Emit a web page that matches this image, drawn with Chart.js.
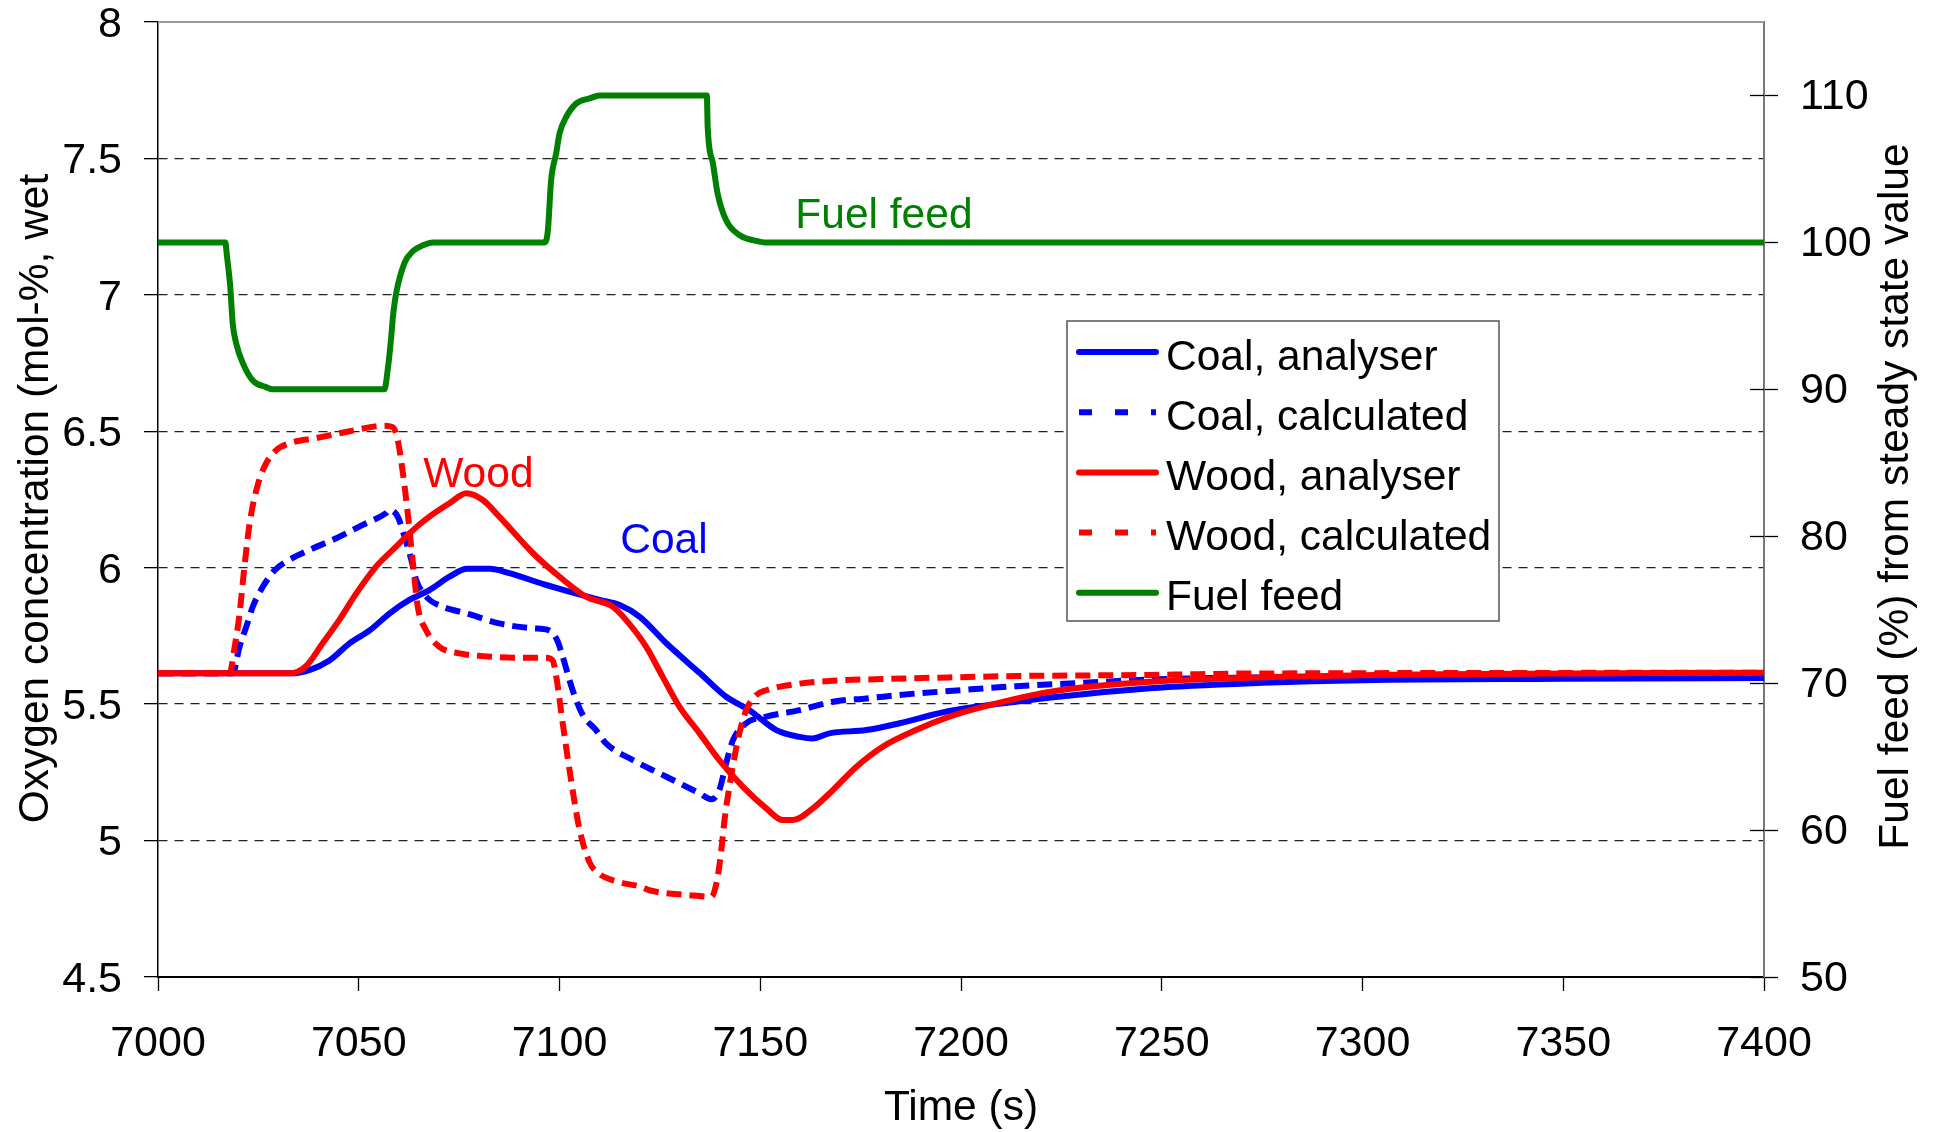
<!DOCTYPE html>
<html>
<head>
<meta charset="utf-8">
<title>Oxygen concentration and fuel feed</title>
<script src="https://cdn.jsdelivr.net/npm/chart.js@4/dist/chart.umd.min.js"></script>
<style>
  html, body { margin: 0; padding: 0; background: #fff; }
  #c { display: block; }
</style>
</head>
<body>
<canvas id="c" width="1934" height="1132"></canvas>
<script>
// ---- axis ticks ----
const timeTicks = [7000, 7050, 7100, 7150, 7200, 7250, 7300, 7350, 7400];
const o2Ticks = [4.5, 5, 5.5, 6, 6.5, 7, 7.5, 8];
const feedTicks = [50, 60, 70, 80, 90, 100, 110];

// ---- Coal, analyser: time (s) / O2 (mol-%) ----
const coalAnalyserT = [7000, 7033, 7037.7, 7042.7, 7047.7, 7052.7, 7057.7, 7062.6, 7067.6, 7072.6, 7077, 7082.6, 7087.5, 7096, 7104, 7110, 7115, 7120, 7126.6, 7135, 7141.5, 7147.3, 7154, 7159.8, 7163, 7167.2, 7176.4, 7184.7, 7197, 7213.7, 7247, 7275, 7300, 7350, 7400];
const coalAnalyserO2 = [5.613, 5.613, 5.625, 5.66, 5.723, 5.77, 5.833, 5.882, 5.918, 5.967, 5.996, 5.996, 5.98, 5.94, 5.906, 5.882, 5.863, 5.82, 5.723, 5.613, 5.527, 5.478, 5.405, 5.38, 5.374, 5.393, 5.405, 5.43, 5.475, 5.509, 5.558, 5.578, 5.588, 5.593, 5.596];

// ---- Coal, calculated ----
const coalCalcT = [7000, 7018.6, 7020.3, 7022, 7023.6, 7026.1, 7029, 7031.9, 7037.7, 7044.4, 7051, 7056.8, 7057.7, 7059.7, 7061.4, 7063.1, 7064.3, 7066.8, 7070.9, 7076.8, 7085, 7093.4, 7097.5, 7099.4, 7100.8, 7103.3, 7105.8, 7109.1, 7111.6, 7118.3, 7126.6, 7134.9, 7137.8, 7139.8, 7141.5, 7143.2, 7146.5, 7151.5, 7159.8, 7168.1, 7176.4, 7188.8, 7197, 7213.7, 7230.3, 7247, 7270, 7300, 7400];
const coalCalcO2 = [5.613, 5.613, 5.71, 5.784, 5.857, 5.93, 5.99, 6.022, 6.065, 6.108, 6.157, 6.2, 6.212, 6.187, 6.114, 6.028, 5.955, 5.894, 5.857, 5.833, 5.796, 5.778, 5.77, 5.735, 5.674, 5.55, 5.46, 5.405, 5.356, 5.295, 5.234, 5.173, 5.151, 5.185, 5.283, 5.368, 5.43, 5.454, 5.478, 5.509, 5.521, 5.539, 5.548, 5.566, 5.578, 5.59, 5.597, 5.6, 5.6];

// ---- Wood, analyser ----
const woodAnalyserT = [7000, 7032.8, 7036.9, 7041, 7045.2, 7049.4, 7054.3, 7059.3, 7062.6, 7067.6, 7072.6, 7076.8, 7080.9, 7085, 7093.4, 7100, 7106.6, 7113.3, 7116.6, 7121.6, 7125.7, 7129.9, 7134.9, 7139.8, 7145.7, 7151.5, 7155.6, 7158.1, 7163.1, 7168.1, 7173.9, 7180.5, 7188.8, 7197.1, 7205.4, 7222, 7247, 7280, 7320, 7400];
const woodAnalyserO2 = [5.613, 5.613, 5.64, 5.723, 5.81, 5.906, 6.004, 6.077, 6.126, 6.187, 6.236, 6.273, 6.248, 6.187, 6.053, 5.967, 5.894, 5.857, 5.808, 5.71, 5.6, 5.49, 5.393, 5.295, 5.197, 5.118, 5.075, 5.075, 5.118, 5.185, 5.27, 5.344, 5.405, 5.454, 5.49, 5.545, 5.582, 5.6, 5.61, 5.615];

// ---- Wood, calculated ----
const woodCalcT = [7000, 7017.8, 7019.1, 7020.3, 7021.5, 7022.8, 7024.5, 7026.5, 7029.4, 7032.8, 7039.4, 7047.7, 7056, 7058.5, 7059.7, 7061, 7062.2, 7063.5, 7064.7, 7066.8, 7070.1, 7075.1, 7080.9, 7089.2, 7096.7, 7098.3, 7099.2, 7100.8, 7102.9, 7105, 7107.5, 7109.7, 7114.3, 7120.4, 7122.4, 7132.4, 7137.8, 7139.4, 7140.3, 7141.1, 7142.3, 7143.6, 7144.8, 7146.5, 7149, 7151.5, 7157.3, 7168.1, 7180.5, 7197.1, 7213.7, 7247, 7270, 7400];
const woodCalcO2 = [5.613, 5.613, 5.71, 5.83, 6.0, 6.16, 6.285, 6.37, 6.43, 6.456, 6.475, 6.5, 6.52, 6.515, 6.468, 6.346, 6.2, 6.016, 5.857, 5.77, 5.71, 5.686, 5.676, 5.67, 5.67, 5.66, 5.6, 5.43, 5.22, 5.04, 4.92, 4.88, 4.85, 4.83, 4.818, 4.8, 4.794, 4.867, 4.965, 5.075, 5.197, 5.307, 5.393, 5.478, 5.533, 5.551, 5.57, 5.586, 5.592, 5.598, 5.603, 5.607, 5.612, 5.615];

// ---- Fuel feed (% of steady state value) ----
const feedT = [7000, 7016.8, 7017.1, 7018, 7018.6, 7019.5, 7021.1, 7023.6, 7026.9, 7028.6, 7056.4, 7057.2, 7058.1, 7058.5, 7059.3, 7061.4, 7063.5, 7066, 7068.4, 7096.3, 7097.1, 7097.9, 7099.2, 7100, 7101.7, 7104.2, 7107.5, 7110, 7136.7, 7136.9, 7138.2, 7139.4, 7141.5, 7144.8, 7149.8, 7151, 7400];
const feedPct = [100, 100, 99.25, 96.98, 94.5, 93.1, 91.8, 90.6, 90.15, 90, 90, 91.3, 93.6, 94.9, 96.5, 98.6, 99.4, 99.8, 100, 100, 100.8, 104.2, 106.1, 107.4, 108.55, 109.46, 109.8, 110, 110, 107.9, 105.4, 103.3, 101.5, 100.5, 100.05, 100, 100];

// ---- text ----
const seriesNames = ['Coal, analyser', 'Coal, calculated', 'Wood, analyser', 'Wood, calculated', 'Fuel feed'];
const xTitle = 'Time (s)';
const yTitle = 'Oxygen concentration (mol-%, wet';
const y2Title = 'Fuel feed (%) from steady state value';
const curveLabels = [
  { text: 'Wood', t: 7079.8, v: 6.296, axis: 'y', color: '#ff0000' },
  { text: 'Coal', t: 7126.0, v: 6.055, axis: 'y', color: '#0000ff' },
  { text: 'Fuel feed', t: 7180.8, v: 101.0, axis: 'y2', color: '#008000' }
];

const FONT = '"Liberation Sans", Arial, Helvetica, sans-serif';
const TEXT_PX = 42.5;
const TICK_PX = 43;
const BLUE = '#0000ff', RED = '#ff0000', GREEN = '#008000';
const LINE_W = 6;
const CHART_DASH = [15, 8];
const LEGEND_DASH = [13, 23];

const pts = (ts, vs) => ts.map((t, i) => ({ x: t, y: vs[i] }));

const datasets = [
  { label: seriesNames[0], data: pts(coalAnalyserT, coalAnalyserO2), borderColor: BLUE, yAxisID: 'y', order: 3 },
  { label: seriesNames[1], data: pts(coalCalcT, coalCalcO2), borderColor: BLUE, borderDash: CHART_DASH, yAxisID: 'y', order: 2 },
  { label: seriesNames[2], data: pts(woodAnalyserT, woodAnalyserO2), borderColor: RED, yAxisID: 'y', order: 1 },
  { label: seriesNames[3], data: pts(woodCalcT, woodCalcO2), borderColor: RED, borderDash: CHART_DASH, yAxisID: 'y', order: 0 },
  { label: seriesNames[4], data: pts(feedT, feedPct), borderColor: GREEN, yAxisID: 'y2', order: 4 }
].map(d => Object.assign({
  borderWidth: LINE_W,
  pointRadius: 0,
  pointHoverRadius: 0,
  fill: false,
  cubicInterpolationMode: 'monotone',
  borderCapStyle: 'butt',
  borderJoinStyle: 'round'
}, d));

const setTicks = (list) => (scale) => { scale.ticks = list.map(v => ({ value: v })); };
const noEdgePadding = (size) => (scale) => {
  if (scale.isHorizontal()) { scale.height = size; } else { scale.width = size; }
  scale.paddingTop = 0; scale.paddingBottom = 0; scale.paddingLeft = 0; scale.paddingRight = 0;
};

// frame lines, inner tick marks, axis titles, curve labels and legend
const decorations = {
  id: 'decorations',
  beforeDatasetsDraw(chart) {
    const { ctx, chartArea: a, scales } = chart;
    ctx.save();
    ctx.strokeStyle = '#9a9a9a';
    ctx.lineWidth = 2;
    ctx.beginPath();
    ctx.moveTo(a.left, a.top);
    ctx.lineTo(a.right, a.top);
    ctx.stroke();
    ctx.strokeStyle = '#000';
    ctx.lineWidth = 1.3;
    feedTicks.forEach(v => {
      const py = Math.round(scales.y2.getPixelForValue(v)) + 0.5;
      ctx.beginPath();
      ctx.moveTo(a.right - 14, py);
      ctx.lineTo(a.right, py);
      ctx.stroke();
    });
    ctx.restore();
  },
  afterDraw(chart) {
    const { ctx, chartArea: a, scales } = chart;
    ctx.save();
    ctx.font = TEXT_PX + 'px ' + FONT;
    ctx.fillStyle = '#000';

    // axis titles
    ctx.textAlign = 'center';
    ctx.textBaseline = 'alphabetic';
    ctx.fillText(xTitle, (a.left + a.right) / 2, 1120);

    ctx.save();
    ctx.translate(48, 498.5);
    ctx.rotate(-Math.PI / 2);
    ctx.fillText(yTitle, 0, 0);
    ctx.restore();

    ctx.save();
    ctx.translate(1908, 496.5);
    ctx.rotate(-Math.PI / 2);
    ctx.fillText(y2Title, 0, 0);
    ctx.restore();

    // labels next to the curves
    curveLabels.forEach(l => {
      ctx.fillStyle = l.color;
      ctx.fillText(l.text, scales.x.getPixelForValue(l.t), scales[l.axis].getPixelForValue(l.v));
    });

    // legend
    const box = { x: 1067, y: 321, w: 432, h: 300 };
    ctx.fillStyle = '#fff';
    ctx.fillRect(box.x, box.y, box.w, box.h);
    ctx.strokeStyle = '#555';
    ctx.lineWidth = 1.5;
    ctx.strokeRect(box.x, box.y, box.w, box.h);
    ctx.textAlign = 'left';
    chart.data.datasets.forEach((ds, i) => {
      const ly = 352 + i * 60.2;
      ctx.save();
      ctx.strokeStyle = ds.borderColor;
      ctx.lineWidth = LINE_W;
      ctx.lineCap = ds.borderDash ? 'butt' : 'round';
      ctx.setLineDash(ds.borderDash ? LEGEND_DASH : []);
      ctx.beginPath();
      ctx.moveTo(1079, ly);
      ctx.lineTo(1156, ly);
      ctx.stroke();
      ctx.restore();
      ctx.fillStyle = '#000';
      ctx.fillText(ds.label, 1166, ly + 17.5);
    });
    ctx.restore();
  }
};

Chart.defaults.font.family = FONT;
Chart.defaults.color = '#000';

new Chart(document.getElementById('c'), {
  type: 'line',
  data: { datasets },
  options: {
    responsive: false,
    animation: false,
    events: [],
    layout: { padding: { top: 22, left: 0, right: 0, bottom: 0 } },
    plugins: { legend: { display: false }, tooltip: { enabled: false } },
    scales: {
      x: {
        type: 'linear',
        min: 7000, max: 7400,
        afterBuildTicks: setTicks(timeTicks),
        afterFit: noEdgePadding(155),
        grid: { drawOnChartArea: false, drawTicks: true, tickLength: 14, tickColor: '#000', tickWidth: 1.3 },
        border: { display: true, color: '#000', width: 2 },
        ticks: { font: { size: TICK_PX, lineHeight: 1 }, padding: 32, maxRotation: 0, autoSkip: false, callback: v => String(v) }
      },
      y: {
        type: 'linear', position: 'left',
        min: 4.5, max: 8,
        afterBuildTicks: setTicks(o2Ticks),
        afterFit: noEdgePadding(158),
        grid: {
          drawOnChartArea: true, drawTicks: true, tickLength: 14,
          color: c => (c.tick && (c.tick.value === 8 || c.tick.value === 4.5)) ? 'rgba(0,0,0,0)' : '#222',
          lineWidth: 1.3, tickColor: '#000', tickWidth: 1.3
        },
        border: { display: true, color: '#000', width: 1.5, dash: [9, 7] },
        ticks: { font: { size: TICK_PX, lineHeight: 1 }, padding: 22, labelOffset: 3, autoSkip: false, callback: v => String(v) }
      },
      y2: {
        type: 'linear', position: 'right',
        min: 50, max: 115,
        afterBuildTicks: setTicks(feedTicks),
        afterFit: noEdgePadding(170),
        grid: { drawOnChartArea: false, drawTicks: true, tickLength: 14, tickColor: '#000', tickWidth: 1.3 },
        border: { display: true, color: '#777', width: 2 },
        ticks: { font: { size: TICK_PX, lineHeight: 1 }, padding: 22, labelOffset: 2, autoSkip: false, callback: v => String(v) }
      }
    }
  },
  plugins: [decorations]
});
</script>
</body>
</html>
